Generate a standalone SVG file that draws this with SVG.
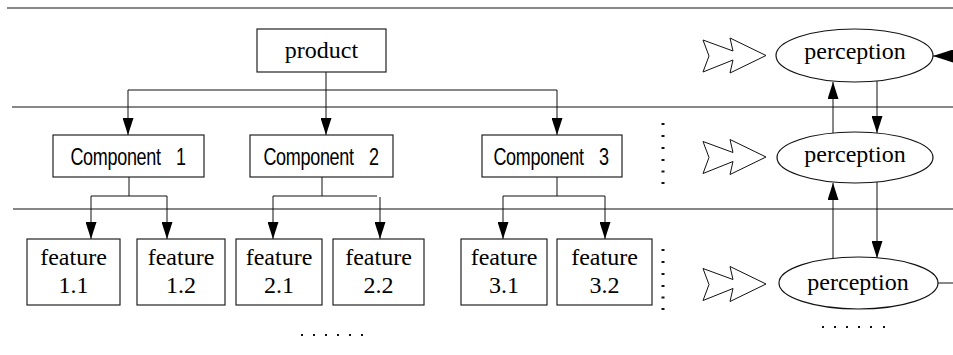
<svg xmlns="http://www.w3.org/2000/svg" width="953" height="355" viewBox="0 0 953 355">
<style>
.box{fill:#fff;stroke:#222;stroke-width:1.2}
.ell{fill:#fff;stroke:#111;stroke-width:1.2}
.ln{fill:none;stroke:#111;stroke-width:1}
.sep{fill:none;stroke:#111;stroke-width:1.2}
.chev{fill:#fff;stroke:#111;stroke-width:1}
.serif{font-family:"Liberation Serif","Times New Roman",serif;font-size:24px;fill:#000;text-anchor:middle}
.sans{font-family:"Liberation Sans",Arial,sans-serif;font-size:24px;fill:#000;text-anchor:middle;letter-spacing:-0.4px;word-spacing:14px}
.dot{fill:#111}
</style>
<defs>
<marker id="ah" markerUnits="userSpaceOnUse" markerWidth="17" markerHeight="11" refX="17" refY="5.5" orient="auto">
<path d="M0,0 L17,5.5 L0,11 z" fill="#000"/>
</marker>
<marker id="ahb" markerUnits="userSpaceOnUse" markerWidth="20" markerHeight="13" refX="20" refY="6.5" orient="auto">
<path d="M0,0 L20,6.5 L0,13 z" fill="#000"/>
</marker>
<polygon id="chevron" points="703,40 733,51 730,38 766,55.5 730,73 733,60 703,72 709,56"/>
<g id="vdots">
<rect x="661.5" y="0" width="3" height="2"/><rect x="661.5" y="12" width="3" height="2"/><rect x="661.5" y="24" width="3" height="2"/><rect x="661.5" y="36" width="3" height="2"/><rect x="661.5" y="47.5" width="3" height="2"/><rect x="661.5" y="59" width="3" height="2"/>
</g>
</defs>

<g id="separators">
<line class="sep" x1="7" y1="8" x2="953" y2="8"/>
<line class="sep" x1="12" y1="107" x2="953" y2="107"/>
<line class="sep" x1="13" y1="209" x2="953" y2="209"/>
</g>

<g id="connectors">
<line class="ln" x1="326" y1="72" x2="326" y2="135" marker-end="url(#ah)"/>
<line class="ln" x1="128" y1="90" x2="557" y2="90"/>
<line class="ln" x1="128" y1="90" x2="128" y2="135" marker-end="url(#ah)"/>
<line class="ln" x1="557" y1="90" x2="557" y2="135" marker-end="url(#ah)"/>

<line class="ln" x1="129" y1="177" x2="129" y2="196"/>
<line class="ln" x1="91" y1="196" x2="167" y2="196"/>
<line class="ln" x1="91" y1="196" x2="91" y2="239" marker-end="url(#ah)"/>
<line class="ln" x1="167" y1="196" x2="167" y2="239" marker-end="url(#ah)"/>

<line class="ln" x1="322" y1="177" x2="322" y2="196"/>
<line class="ln" x1="273" y1="196" x2="377" y2="196"/>
<line class="ln" x1="273" y1="196" x2="273" y2="239" marker-end="url(#ah)"/>
<line class="ln" x1="380" y1="197" x2="380" y2="239" marker-end="url(#ah)"/>

<line class="ln" x1="557" y1="177" x2="557" y2="196"/>
<line class="ln" x1="503" y1="196" x2="605" y2="196"/>
<line class="ln" x1="503" y1="196" x2="503" y2="239" marker-end="url(#ah)"/>
<line class="ln" x1="605" y1="196" x2="605" y2="239" marker-end="url(#ah)"/>

<line class="ln" x1="833" y1="133" x2="833" y2="82" marker-end="url(#ah)"/>
<line class="ln" x1="877" y1="81" x2="877" y2="133" marker-end="url(#ah)"/>
<line class="ln" x1="833" y1="259" x2="833" y2="183" marker-end="url(#ah)"/>
<line class="ln" x1="877" y1="182" x2="877" y2="258" marker-end="url(#ah)"/>

<line class="ln" x1="960" y1="56" x2="933" y2="56" marker-end="url(#ahb)"/>
<line class="ln" x1="938" y1="283" x2="953" y2="283"/>
</g>

<g id="product">
<rect class="box" x="257" y="29" width="129" height="43"/>
<text class="serif" x="321.5" y="58">product</text>
</g>

<g id="component1">
<rect class="box" x="53" y="135" width="151" height="42"/>
<text class="sans" transform="translate(128,165) scale(0.75,1)" x="0" y="0">Component 1</text>
</g>
<g id="component2">
<rect class="box" x="250" y="135" width="143" height="42"/>
<text class="sans" transform="translate(321,165) scale(0.75,1)" x="0" y="0">Component 2</text>
</g>
<g id="component3">
<rect class="box" x="482" y="135" width="140" height="42"/>
<text class="sans" transform="translate(551,165) scale(0.75,1)" x="0" y="0">Component 3</text>
</g>

<g id="feature11">
<rect class="box" x="27" y="239" width="93" height="66"/>
<text class="serif" x="73.5" y="265">feature</text>
<text class="serif" x="73.5" y="293">1.1</text>
</g>
<g id="feature12">
<rect class="box" x="137" y="239" width="88" height="66"/>
<text class="serif" x="181" y="265">feature</text>
<text class="serif" x="181" y="293">1.2</text>
</g>
<g id="feature21">
<rect class="box" x="236" y="239" width="86" height="66"/>
<text class="serif" x="279" y="265">feature</text>
<text class="serif" x="279" y="293">2.1</text>
</g>
<g id="feature22">
<rect class="box" x="333" y="239" width="91" height="66"/>
<text class="serif" x="378.5" y="265">feature</text>
<text class="serif" x="378.5" y="293">2.2</text>
</g>
<g id="feature31">
<rect class="box" x="461" y="239" width="86" height="66"/>
<text class="serif" x="504" y="265">feature</text>
<text class="serif" x="504" y="293">3.1</text>
</g>
<g id="feature32">
<rect class="box" x="557" y="239" width="95" height="66"/>
<text class="serif" x="604.5" y="265">feature</text>
<text class="serif" x="604.5" y="293">3.2</text>
</g>

<g id="perception1">
<ellipse class="ell" cx="854.5" cy="55.5" rx="78.5" ry="26.5"/>
<text class="serif" x="855" y="59">perception</text>
</g>
<g id="perception2">
<ellipse class="ell" cx="855" cy="157.5" rx="78" ry="25.5"/>
<text class="serif" x="855" y="162">perception</text>
</g>
<g id="perception3">
<ellipse class="ell" cx="858.5" cy="283" rx="79.5" ry="26"/>
<text class="serif" x="858" y="290">perception</text>
</g>

<g id="chevrons" class="chev">
<use href="#chevron"/>
<use href="#chevron" transform="translate(0,101.5)"/>
<use href="#chevron" transform="translate(0,228.5)"/>
</g>

<g id="dots" class="dot">
<use href="#vdots" transform="translate(0,123)"/>
<use href="#vdots" transform="translate(0,249)"/>
<rect x="301" y="334" width="2" height="2"/><rect x="313" y="334" width="2" height="2"/><rect x="325" y="334" width="2" height="2"/><rect x="337" y="334" width="2" height="2"/><rect x="349" y="334" width="2" height="2"/><rect x="361" y="334" width="2" height="2"/>
<rect x="822" y="326" width="2" height="2"/><rect x="834" y="326" width="2" height="2"/><rect x="846" y="326" width="2" height="2"/><rect x="858" y="326" width="2" height="2"/><rect x="870" y="326" width="2" height="2"/><rect x="883" y="326" width="2" height="2"/>
</g>
</svg>
